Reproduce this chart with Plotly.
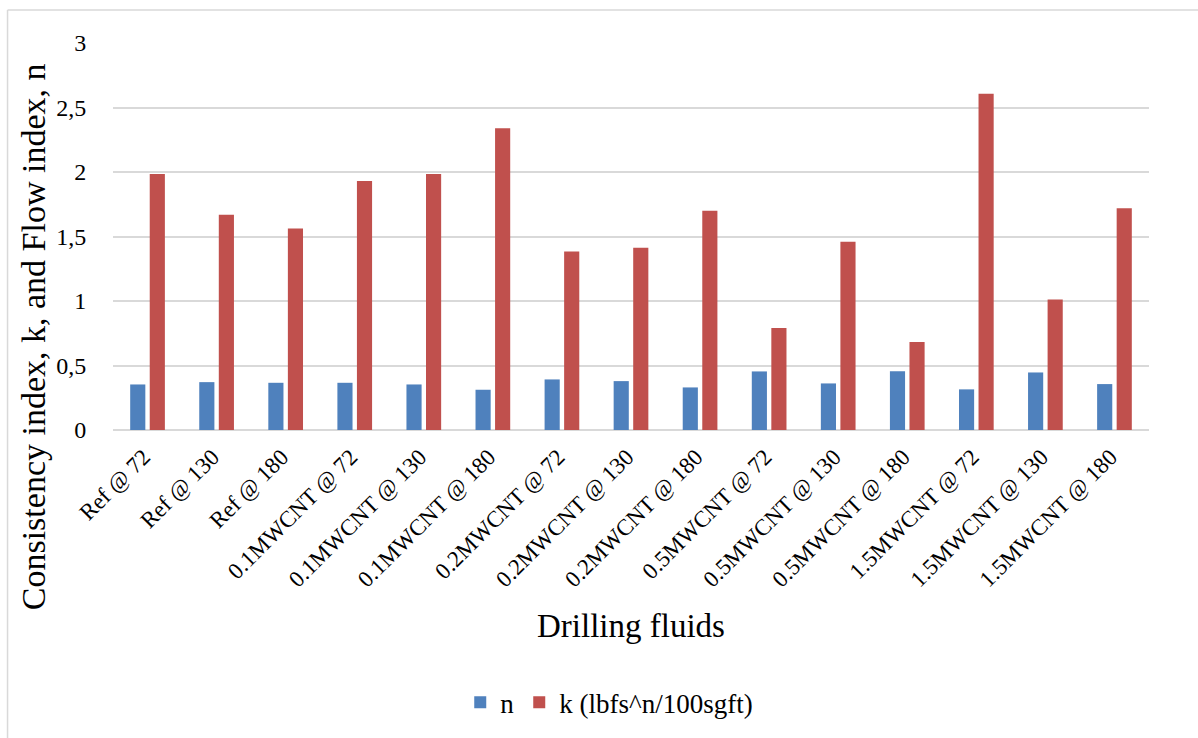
import plotly.graph_objects as go

categories = ["Ref @ 72", "Ref @ 130", "Ref @ 180",
              "0.1MWCNT @ 72", "0.1MWCNT @ 130", "0.1MWCNT @ 180",
              "0.2MWCNT @ 72", "0.2MWCNT @ 130", "0.2MWCNT @ 180",
              "0.5MWCNT @ 72", "0.5MWCNT @ 130", "0.5MWCNT @ 180",
              "1.5MWCNT @ 72", "1.5MWCNT @ 130", "1.5MWCNT @ 180"]
n_values = [0.353, 0.371, 0.366, 0.366, 0.353, 0.312, 0.392, 0.379, 0.330,
            0.454, 0.361, 0.456, 0.315, 0.446, 0.356]
k_values = [1.985, 1.668, 1.562, 1.930, 1.985, 2.340, 1.384, 1.413, 1.699,
            0.791, 1.459, 0.683, 2.606, 1.011, 1.719]
y_ticks = [0, 0.5, 1, 1.5, 2, 2.5, 3]

FONT = "Liberation Serif, Cambria, serif"

fig = go.Figure()
fig.add_trace(go.Bar(x=categories, y=n_values, name="n",
                     marker=dict(color="#4F81BD", line=dict(width=0))))
fig.add_trace(go.Bar(x=categories, y=k_values, name="k (lbfs^n/100sgft)",
                     marker=dict(color="#C0504D", line=dict(width=0))))

fig.update_layout(
    width=1198, height=738,
    margin=dict(l=113, r=49, t=43, b=307),
    paper_bgcolor="white", plot_bgcolor="white",
    barmode="group", bargap=0.434, bargroupgap=0.225,
    separators=", ",
    font=dict(family=FONT, color="#000000", size=20),
    showlegend=True,
    legend=dict(orientation="h", x=0.479, xanchor="center", y=-0.70, yanchor="middle",
                font=dict(family=FONT, size=27), traceorder="normal"),
    xaxis=dict(
        tickangle=-45, tickfont=dict(family=FONT, size=23),
        showgrid=False, showline=False, ticks="",
        ticklabelstandoff=8, ticklabelshift=-4,
    ),
    yaxis=dict(
        range=[0, 3], tickvals=y_ticks, tickformat=".1~f",
        tickfont=dict(family=FONT, size=24),
        showgrid=True, gridcolor="#D9D9D9", gridwidth=1.5,
        zeroline=True, zerolinecolor="#D9D9D9", zerolinewidth=1.5,
        showline=False, ticks="outside", ticklen=21, tickcolor="rgba(0,0,0,0)",
    ),
    annotations=[
        dict(text="Consistency index, k, and Flow index, n", textangle=-90,
             xref="paper", yref="paper", x=(33 - 113) / 1036, y=(431 - 338) / 388,
             xanchor="center", yanchor="middle", showarrow=False,
             font=dict(family=FONT, size=34)),
        dict(text="Drilling fluids",
             xref="paper", yref="paper", x=(631 - 113) / 1036, y=(431 - 628) / 388,
             xanchor="center", yanchor="middle", showarrow=False,
             font=dict(family=FONT, size=33)),
    ],
    shapes=[
        dict(type="line", xref="paper", yref="paper", x0=-0.1018, x1=1.05, y0=1.085, y1=1.085,
             line=dict(color="#D9D9D9", width=1.5)),
        dict(type="line", xref="paper", yref="paper", x0=-0.1018, x1=-0.1018, y0=1.085, y1=-0.80,
             line=dict(color="#D9D9D9", width=1.5)),
    ],
)

fig.write_html("out.html")
